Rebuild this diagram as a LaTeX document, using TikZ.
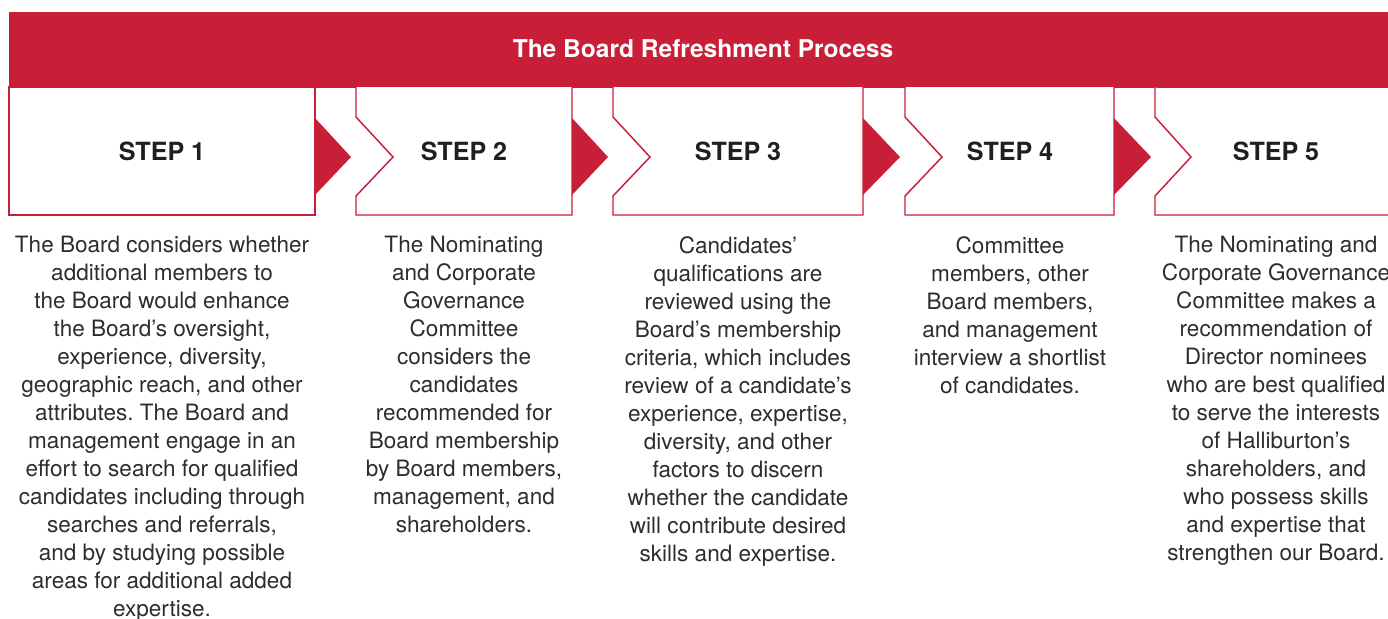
\documentclass[tikz,border=0pt]{standalone}
\usepackage{fontspec}
\setmainfont{TeX Gyre Heros}
\usetikzlibrary{positioning}
\definecolor{hred}{RGB}{200,30,56}
\definecolor{htext}{RGB}{45,45,45}
\frenchspacing

\begin{document}
\begin{tikzpicture}[
        x=0.75pt, y=-0.75pt,
        frame/.style = {draw=hred, line width=1.1pt, fill=white},
        chev/.style = {fill=hred, draw=none},
        steplabel/.style = {font=\bfseries\fontsize{18.8}{21}\selectfont, text=black!88},
        stepbody/.style = {font=\fontsize{16.9}{21}\selectfont, text=htext, align=center, anchor=north, inner sep=0pt}
    ]
    \useasboundingbox (0,0) rectangle (1388,618);
    \clip (0,0) rectangle (1388,618);
    % banner
    \draw[hred, fill=hred] (9,12) rectangle (1400,87);
    \node[font=\bfseries\fontsize{18.4}{21}\selectfont, text=white] (title) at (703,49) {The Board Refreshment Process};
    % step boxes
    \draw[frame] (9,87) rectangle (315,215);
    \draw[frame] (356,87) -- (356,117) -- (393,157) -- (356,196) -- (356,215) -- (572,215) -- (572,87);
    \draw[frame] (613,87) -- (613,117) -- (650,157) -- (613,196) -- (613,215) -- (863,215) -- (863,87);
    \draw[frame] (905,87) -- (905,117) -- (942,157) -- (905,196) -- (905,215) -- (1114,215) -- (1114,87);
    \draw[frame] (1155,87) -- (1155,117) -- (1191,157) -- (1155,196) -- (1155,215) -- (1400,215);
    % arrows between the steps
    \fill[chev] (315,118) -- (351,157) -- (315,195) -- cycle;
    \fill[chev] (572,118) -- (608,157) -- (572,195) -- cycle;
    \fill[chev] (863,118) -- (900,157) -- (863,195) -- cycle;
    \fill[chev] (1114,118) -- (1151,157) -- (1114,195) -- cycle;
    % labels
    \node[steplabel] (s1) at (162,151) {STEP 1};
    \node[steplabel] (s2) at (464,151) {STEP 2};
    \node[steplabel] (s3) at (738,151) {STEP 3};
    \node[steplabel] (s4) at (1010,151) {STEP 4};
    \node[steplabel] (s5) at (1276,151) {STEP 5};
    % texts
    \node[stepbody] (t1) at (162,236) {The Board considers whether\\additional members to\\the Board would enhance\\the Board’s oversight,\\experience, diversity,\\geographic reach, and other\\attributes. The Board and\\management engage in an\\effort to search for qualified\\candidates including through\\searches and referrals,\\and by studying possible\\areas for additional added\\expertise.};
    \node[stepbody] (t2) at (464,236) {The Nominating\\and Corporate\\Governance\\Committee\\considers the\\candidates\\recommended for\\Board membership\\by Board members,\\management, and\\shareholders.};
    \node[stepbody] (t3) at (738,236) {Candidates’\\qualifications are\\reviewed using the\\Board’s membership\\criteria, which includes\\review of a candidate’s\\experience, expertise,\\diversity, and other\\factors to discern\\whether the candidate\\will contribute desired\\skills and expertise.};
    \node[stepbody] (t4) at (1010,236) {Committee\\members, other\\Board members,\\and management\\interview a shortlist\\of candidates.};
    \node[stepbody] (t5) at (1276,236) {The Nominating and\\Corporate Governance\\Committee makes a\\recommendation of\\Director nominees\\who are best qualified\\to serve the interests\\of Halliburton’s\\shareholders, and\\who possess skills\\and expertise that\\strengthen our Board.};
\end{tikzpicture}
\end{document}
